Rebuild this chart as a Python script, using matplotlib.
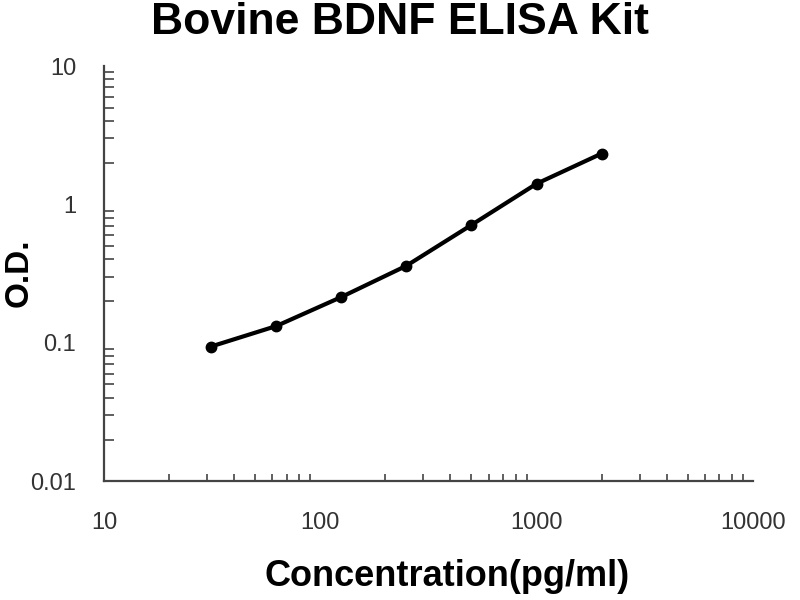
import matplotlib
matplotlib.use("Agg")
import matplotlib.pyplot as plt

plt.rc('font', family=['Liberation Sans', 'DejaVu Sans'])

# standard curve, Bovine BDNF ELISA
conc = [31.25, 62.5, 125, 250, 500, 1000, 2000]
od = [0.094, 0.132, 0.214, 0.36, 0.71, 1.41, 2.33]

fig = plt.figure(figsize=(8, 6), dpi=100)
ax = fig.add_axes([0.13, 0.198, 0.811, 0.692])

ax.plot(conc, od, color='black', lw=3, marker='o', ms=7.5, solid_capstyle='round')

ax.set_xscale('log')
ax.set_yscale('log')
ax.set_xlim(10, 10000)
ax.set_ylim(0.01, 10)
ax.set_xticks([10, 100, 1000, 10000])
ax.set_xticklabels(['10', '100', '1000', '10000'])
ax.set_yticks([0.01, 0.1, 1, 10])
ax.set_yticklabels(['0.01', '0.1', '1', '10'])

for s in ['top', 'right']:
    ax.spines[s].set_visible(False)
for s in ['left', 'bottom']:
    ax.spines[s].set_color('#444444')
    ax.spines[s].set_linewidth(1.6)

ax.tick_params(axis='both', which='both', direction='in', colors='#444444',
               labelcolor='#333333', labelsize=17)
ax.tick_params(axis='x', which='major', length=0, pad=22)
ax.tick_params(axis='x', which='minor', length=5, width=1.2)
ax.tick_params(axis='y', which='major', length=0, pad=20)
ax.tick_params(axis='y', which='minor', length=7, width=1.2)

fig.text(0.5, 0.962, 'Bovine BDNF ELISA Kit', ha='center', va='center',
         fontsize=32, fontweight='bold')
fig.text(0.559, 0.04, 'Concentration(pg/ml)', ha='center', va='center',
         fontsize=26, fontweight='bold')
fig.text(0.024, 0.545, 'O.D.', ha='center', va='center', rotation=90,
         fontsize=24, fontweight='bold')

fig.savefig('out.png', dpi=100)
